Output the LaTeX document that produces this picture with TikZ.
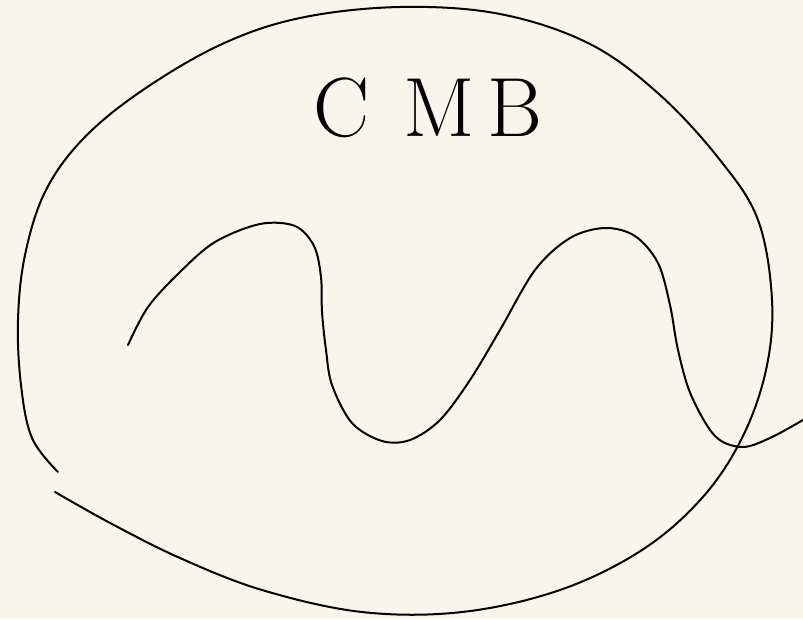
\documentclass[tikz,border=0pt]{standalone}
\definecolor{paper}{RGB}{248,246,234}
\tikzset{ink/.style={line width=2pt,line cap=round,line join=round,black}}
\begin{document}
\begin{tikzpicture}[x=1pt,y=-1pt]
\fill[paper] (0,0) rectangle (803,619);
\useasboundingbox (0,0) rectangle (803,619);
% outer loop
\draw[ink] plot[smooth,tension=0.6] coordinates {(58,472) (32,438) (21,385) (18,320) (25,255) (45,192) (82,140) (140,92) (220,45) (300,18) (400,7) (500,14) (590,44) (660,95) (720,160) (758,220) (772,300) (766,370) (742,438) (702,498) (642,550) (560,590) (462,612) (362,612) (262,590) (180,558) (112,524) (55,492)};
% wave
\draw[ink] plot[smooth,tension=0.55] coordinates {(128,345) (148,307) (180,272) (215,242) (260,224) (295,226) (314,246) (321,277) (322,312) (326,350) (332,385) (352,423) (382,441) (410,440) (440,420) (470,380) (500,330) (535,270) (570,238) (605,228) (635,236) (658,263) (670,305) (678,350) (691,395) (715,436) (742,447) (770,438) (803,420)};
% label
\node[font=\fontsize{84}{84}\selectfont] (cmb) at (428,108) {C\hspace{0.4em}M\hspace{0.15em}B};
\end{tikzpicture}
\end{document}
